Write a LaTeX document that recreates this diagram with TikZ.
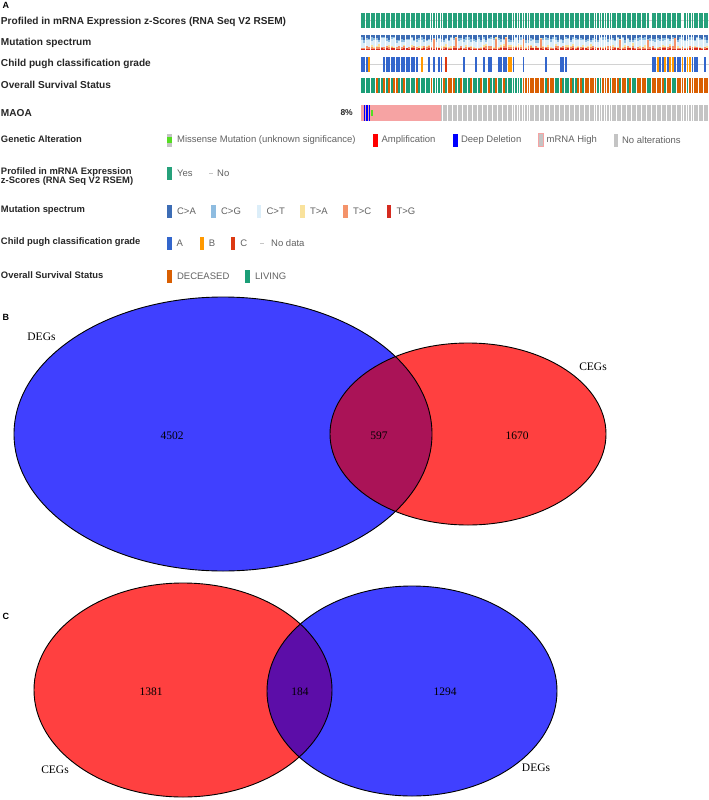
\documentclass[tikz,border=0pt]{standalone}
\usepackage{fontspec}
\setmainfont{Liberation Sans}
\newfontfamily\vennfont{Liberation Serif}
\usetikzlibrary{positioning}
\usepackage{xcolor}

%% oncoprint colours
\definecolor{profgreen}{HTML}{26A17B}
\definecolor{mutCA}{HTML}{3D6DB5}
\definecolor{mutCG}{HTML}{8EBCE0}
\definecolor{mutCT}{HTML}{DCEEF9}
\definecolor{mutTA}{HTML}{F9E29C}
\definecolor{mutTC}{HTML}{F4936A}
\definecolor{mutTG}{HTML}{D52B20}
\definecolor{pughA}{HTML}{3366CC}
\definecolor{pughB}{HTML}{FF9900}
\definecolor{pughC}{HTML}{DC3912}
\definecolor{deceased}{HTML}{D95F02}
\definecolor{living}{HTML}{1B9E77}
\definecolor{ampred}{HTML}{FF0000}
\definecolor{deepblue}{HTML}{0000FF}
\definecolor{mrnapink}{HTML}{F6A3A3}
\definecolor{noalt}{HTML}{C4C4C4}
\definecolor{missgreen}{HTML}{55DD22}
%% venn colours
\definecolor{vennblue}{HTML}{4040FF}
\definecolor{vennred}{HTML}{FF4040}
\definecolor{vennBmix}{HTML}{AA1357}
\definecolor{vennCmix}{HTML}{5C0DA8}

\begin{document}
\begin{tikzpicture}[x=1pt, y=-1pt,
  rowlbl/.style={anchor=west, inner sep=0pt, font=\bfseries\fontsize{10.1}{12}\selectfont, text=black!85},
  leglbl/.style={anchor=west, inner sep=0pt, font=\bfseries\fontsize{9.4}{10}\selectfont, text=black!85},
  legtxt/.style={anchor=west, inner sep=0pt, font=\fontsize{9.5}{10}\selectfont, text=black!62},
  swatch/.style={anchor=west, inner sep=0pt, minimum width=4.5pt, minimum height=13pt},
  panel/.style={anchor=west, inner sep=0pt, font=\bfseries\fontsize{9}{10}\selectfont},
  venntxt/.style={inner sep=0pt, font=\vennfont\fontsize{11.5}{13}\selectfont},
  venn/.style={draw=black, line width=0.9pt}]
  \useasboundingbox (0,0) rectangle (709,800);

  %% ── Panel A: oncoprint tracks ───────────────────────────
  \node[panel] (lblA) at (2.5,5) {A};
  \node[rowlbl] (trkProf) at (0.8,22) {Profiled in mRNA Expression z-Scores (RNA Seq V2 RSEM)};
  \node[rowlbl] (trkMut)  at (0.8,43) {Mutation spectrum};
  \node[rowlbl] (trkPugh) at (0.8,64) {Child pugh classification grade};
  \node[rowlbl] (trkSurv) at (0.8,85) {Overall Survival Status};
  \node[rowlbl] (trkGene) at (0.8,113) {MAOA};
  \node[anchor=east, inner sep=0pt, font=\bfseries\fontsize{8.5}{10}\selectfont, text=black!85]
    (pctGene) at (353,113) {8\%};

  %% profiled track (140 samples, pitch 2.485)
  \draw[gray!35, line width=0.6pt] (361,20.5) -- (709,20.5);
  \foreach \i in {0,...,115,117,118,...,128,130,131,...,139}
    \fill[profgreen] (361+\i*2.485,13) rectangle ++(1.9,15);

  %% mutation spectrum track (stacked fractions)
  \pgfmathsetseed{4170}
  \foreach \i in {0,...,139}{
    \pgfmathsetmacro\xa{361+\i*2.485}
    \pgfmathsetmacro\hca{1.5+4*rnd}
    \pgfmathsetmacro\hcg{\hca+0.8+2.5*rnd}
    \pgfmathsetmacro\htg{0.8+1.2*rnd}
    \pgfmathsetmacro\htc{\htg+0.5+2*rnd+8*(rnd>0.93)}
    \pgfmathsetmacro\hta{\htc+0.3+2.5*rnd*(rnd>0.5)}
    \fill[mutCT] (\xa,35) rectangle ++(1.9,15);
    \fill[mutCA] (\xa,35) rectangle ++(1.9,\hca);
    \fill[mutCG] (\xa,35+\hca) rectangle (\xa+1.9,35+\hcg);
    \fill[mutTA] (\xa,50-\hta) rectangle (\xa+1.9,50);
    \fill[mutTC] (\xa,50-\htc) rectangle (\xa+1.9,50);
    \fill[mutTG] (\xa,50-\htg) rectangle (\xa+1.9,50);
  }

  %% child pugh track
  \draw[gray!35, line width=0.6pt] (361,64.5) -- (709,64.5);
  \foreach \i in {0,1,2,9,10,...,22,27,29,31,32,41,46,49,51,52,55,56,57,58,61,65,74,80,81,82,
                  117,118,120,121,123,126,127,128,130,133,134,135,138}
    \fill[pughA] (361+\i*2.485,57) rectangle ++(1.9,15);
  \foreach \i in {3,24,59,60,119,122,124,125,129,131,132}
    \fill[pughB] (361+\i*2.485,57) rectangle ++(1.9,15);
  \foreach \i in {34}
    \fill[pughC] (361+\i*2.485,57) rectangle ++(1.9,15);

  %% overall survival track
  \foreach \i in {0,...,139}
    \fill[living] (361+\i*2.485,78) rectangle ++(1.9,15);
  \foreach \i in {6,9,11,13,14,17,22,28,33,35,36,37,40,44,48,51,54,57,65,66,67,68,69,70,71,72,73,
                  75,76,77,80,84,87,88,90,91,92,93,94,97,98,99,101,102,103,105,106,108,111,112,
                  113,114,117,118,119,120,121,123,124,127,128,129,130,132,133,134,135,136,137,138,139}
    \fill[deceased] (361+\i*2.485,78) rectangle ++(1.9,15);

  %% MAOA alteration track
  \fill[mrnapink] (361,105) rectangle (441.5,121);
  \foreach \i in {1,2,3}
    \fill[deepblue] (361.3+\i*2.485,105) rectangle ++(1.5,16);
  \fill[missgreen] (371.4,110) rectangle ++(1.4,6);
  \foreach \i in {32,...,139}
    \fill[noalt] (361+\i*2.485,105) rectangle ++(1.9,16);

  %% ── Panel A: legend ─────────────────────────────────────
  \node[leglbl] (legGene) at (0.8,139) {Genetic Alteration};
  \node[swatch, fill=noalt] (swMiss) at (167,140) {};
  \fill[missgreen] (167,137.3) rectangle (171.5,142.7);
  \node[legtxt, right=5pt of swMiss] (txMiss) {Missense Mutation (unknown significance)};
  \node[swatch, fill=ampred] (swAmp) at (373,140) {};
  \node[legtxt, right=3.5pt of swAmp] (txAmp) {Amplification};
  \node[swatch, fill=deepblue] (swDeep) at (453,140) {};
  \node[legtxt, right=3pt of swDeep] (txDeep) {Deep Deletion};
  \node[swatch, fill=noalt, draw=mrnapink, line width=1pt] (swHigh) at (538,140) {};
  \node[legtxt, right=3pt of swHigh] (txHigh) {mRNA High};
  \node[swatch, fill=noalt] (swNone) at (613.5,140) {};
  \node[legtxt, right=3.5pt of swNone] (txNone) {No alterations};

  \node[leglbl] (legProf1) at (0.8,172) {Profiled in mRNA Expression};
  \node[leglbl] (legProf2) at (0.8,181) {z-Scores (RNA Seq V2 RSEM)};
  \node[swatch, fill=profgreen] (swYes) at (167,173) {};
  \node[legtxt, right=5pt of swYes] (txYes) {Yes};
  \draw[gray!45, line width=0.7pt] (209,173) -- (213,173);
  \node[legtxt] (txNo) at (217,173) {No};

  \node[leglbl] (legMut) at (0.8,210) {Mutation spectrum};
  \foreach \x/\c/\t/\n in {167/mutCA/C>A/ca, 211/mutCG/C>G/cg, 256.5/mutCT/C>T/ct,
                          300/mutTA/T>A/ta, 343/mutTC/T>C/tc, 386.5/mutTG/T>G/tg}{
    \node[swatch, fill=\c] (sw\n) at (\x,211) {};
    \node[legtxt, right=5pt of sw\n] (tx\n) {\t};
  }

  \node[leglbl] (legPugh) at (0.8,242.5) {Child pugh classification grade};
  \foreach \x/\c/\t/\n in {167/pughA/A/pa, 199.3/pughB/B/pb, 230.7/pughC/C/pc}{
    \node[swatch, fill=\c] (sw\n) at (\x,243.5) {};
    \node[legtxt, right=4.5pt of sw\n] (tx\n) {\t};
  }
  \draw[gray!45, line width=0.7pt] (260,243.5) -- (264,243.5);
  \node[legtxt] (txNoData) at (271,243.5) {No data};

  \node[leglbl] (legSurv) at (0.8,275) {Overall Survival Status};
  \node[swatch, fill=deceased] (swDec) at (167,276) {};
  \node[legtxt, right=5pt of swDec] (txDec) {DECEASED};
  \node[swatch, fill=living] (swLiv) at (245,276) {};
  \node[legtxt, right=5pt of swLiv] (txLiv) {LIVING};

  %% ── Panel B: DEGs vs CEGs ───────────────────────────────
  \node[panel] (lblB) at (2.5,317) {B};
  \fill[vennblue] (223,434) ellipse [x radius=209, y radius=137];
  \fill[vennred]  (468,434) ellipse [x radius=138, y radius=91];
  \begin{scope}
    \clip (223,434) ellipse [x radius=209, y radius=137];
    \fill[vennBmix] (468,434) ellipse [x radius=138, y radius=91];
  \end{scope}
  \draw[venn] (223,434) ellipse [x radius=209, y radius=137];
  \draw[venn] (468,434) ellipse [x radius=138, y radius=91];
  \node[venntxt] (degB)  at (41.5,337) {DEGs};
  \node[venntxt] (cegB)  at (593,367) {CEGs};
  \node[venntxt] (onlyDegB) at (172,436) {4502};
  \node[venntxt] (bothB)    at (379,436) {597};
  \node[venntxt] (onlyCegB) at (517,436) {1670};

  %% ── Panel C: CEGs vs DEGs ───────────────────────────────
  \node[panel] (lblC) at (2.5,616) {C};
  \fill[vennred]  (183,690) ellipse [x radius=149, y radius=107];
  \fill[vennblue] (412,691) ellipse [x radius=145, y radius=105];
  \begin{scope}
    \clip (183,690) ellipse [x radius=149, y radius=107];
    \fill[vennCmix] (412,691) ellipse [x radius=145, y radius=105];
  \end{scope}
  \draw[venn] (183,690) ellipse [x radius=149, y radius=107];
  \draw[venn] (412,691) ellipse [x radius=145, y radius=105];
  \node[venntxt] (cegC) at (55,770) {CEGs};
  \node[venntxt] (degC) at (536,768) {DEGs};
  \node[venntxt] (onlyCegC) at (151,692) {1381};
  \node[venntxt] (bothC)    at (300,692) {184};
  \node[venntxt] (onlyDegC) at (445,692) {1294};
\end{tikzpicture}
\end{document}
